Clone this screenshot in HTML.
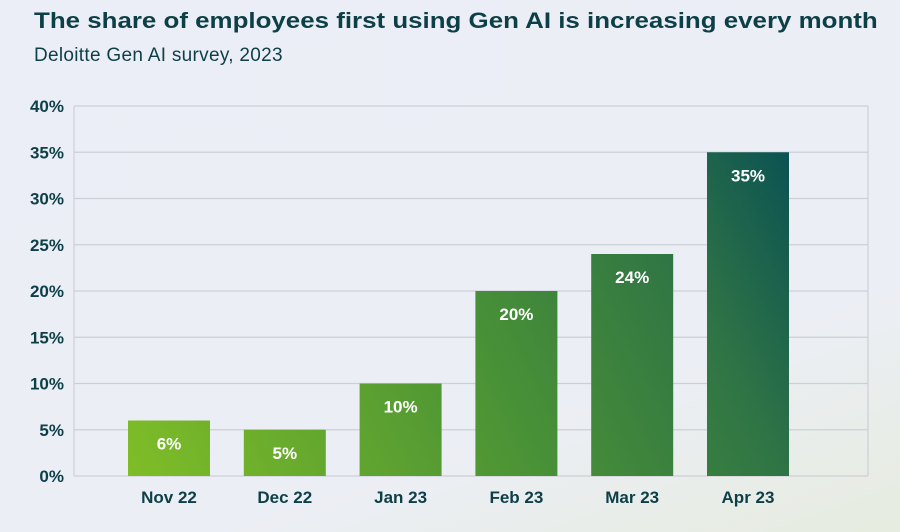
<!DOCTYPE html>
<html><head><meta charset="utf-8"><style>
html,body{margin:0;padding:0}
body{width:900px;height:532px;overflow:hidden;background:linear-gradient(160deg,#eceef7 0%,#eceef6 70%,#e6ecdf 100%);font-family:"Liberation Sans",sans-serif;position:relative}
.t{position:absolute;left:34px;top:8px;font-size:22px;font-weight:bold;color:#0d3f46;white-space:nowrap;transform-origin:0 0;transform:scaleX(1.177)}
.s{position:absolute;left:34px;top:45px;font-size:19px;color:#0d3f46;letter-spacing:0.3px}
svg{position:absolute;left:0;top:0}
</style></head><body>
<div class="t">The share of employees first using Gen AI is increasing every month</div>
<div class="s">Deloitte Gen AI survey, 2023</div>
<svg id="c" width="900" height="532">
<defs><linearGradient id="g" gradientUnits="userSpaceOnUse" x1="130" y1="476" x2="790" y2="152">
<stop offset="0" stop-color="#7fbd27"/><stop offset="0.5" stop-color="#4a9236"/><stop offset="0.8" stop-color="#2f7445"/><stop offset="1" stop-color="#0b5253"/></linearGradient></defs>
</svg>
<script>
const categories=["Nov 22","Dec 22","Jan 23","Feb 23","Mar 23","Apr 23"];
const values=[6,5,10,20,24,35];
const valueLabels=["6%","5%","10%","20%","24%","35%"];
const ticks=[0,5,10,15,20,25,30,35,40];
const tickLabels=["0%","5%","10%","15%","20%","25%","30%","35%","40%"];
const NS="http://www.w3.org/2000/svg",svg=document.getElementById('c');
const y=v=>476-v*9.25, xc=i=>169+i*115.8, bw=82;
function mk(t,a,txt){const e=document.createElementNS(NS,t);for(const k in a)e.setAttribute(k,a[k]);if(txt!==undefined)e.textContent=txt;svg.appendChild(e);return e;}
ticks.forEach((t,i)=>{
 const l=mk('line',{x1:74,x2:868,y1:y(t),y2:y(t),stroke:'#cdcfd6','stroke-width':1.2});
 
 
 const tx=mk('text',{x:64,y:y(t)+6,'text-anchor':'end','font-size':17,'font-weight':'bold',fill:'#0d3f46'},tickLabels[i]);
 
 
});
const ax=mk('line',{x1:74,x2:74,y1:106,y2:476,stroke:'#cdcfd6','stroke-width':1.2});


const rx=mk('line',{x1:868,x2:868,y1:106,y2:476,stroke:'#cdcfd6','stroke-width':1.2});


categories.forEach((c,i)=>{
 const r=mk('rect',{x:xc(i)-bw/2,y:y(values[i]),width:bw,height:y(0)-y(values[i]),fill:'url(#g)'});
 
 
 const v=mk('text',{x:xc(i),y:y(values[i])+29,'text-anchor':'middle','font-size':17,'font-weight':'bold',fill:'#fff'},valueLabels[i]);
 
 
 const l=mk('text',{x:xc(i),y:503,'text-anchor':'middle','font-size':17,'font-weight':'bold',fill:'#0d3f46'},c);
 
 
});
</script>
</body></html>
